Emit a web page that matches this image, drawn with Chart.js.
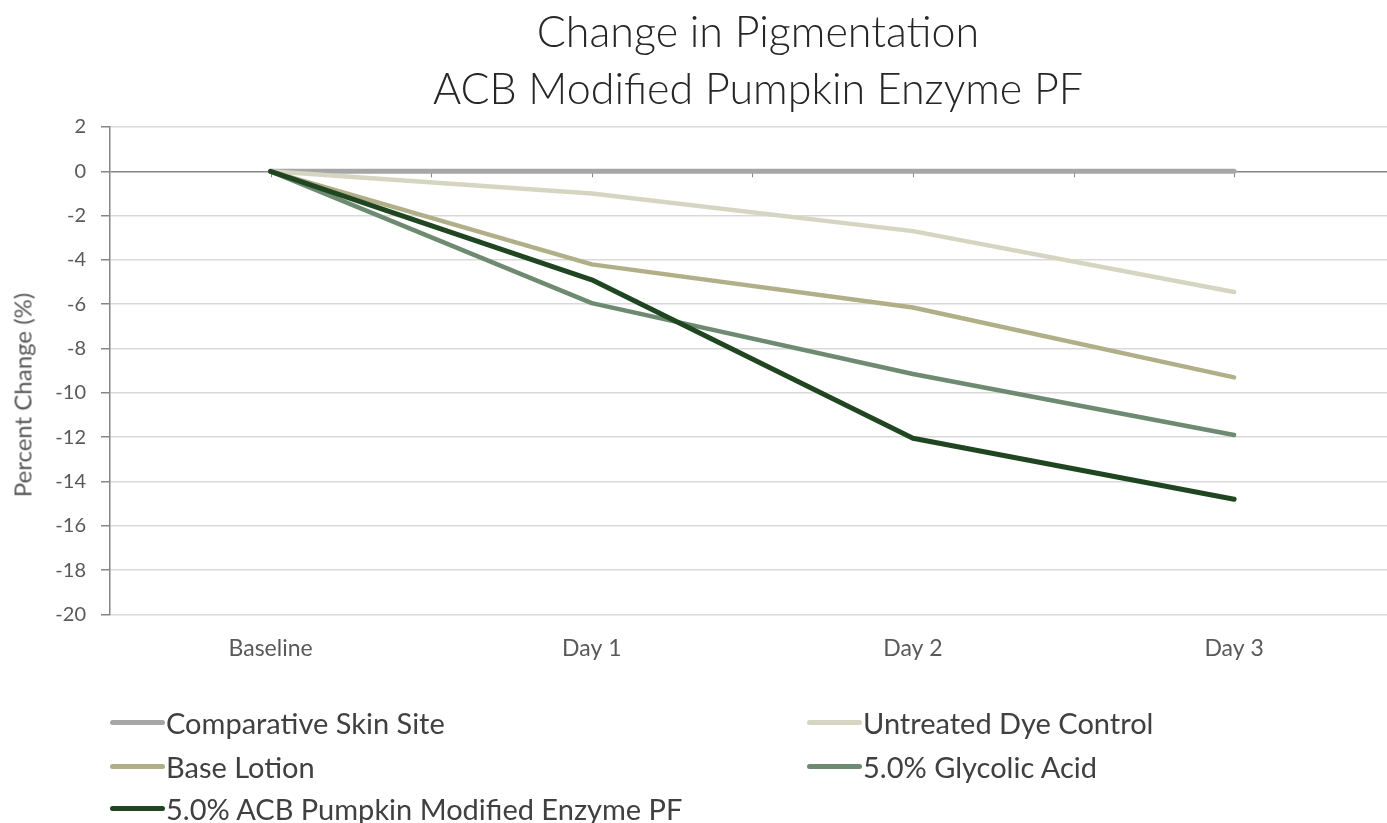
<!DOCTYPE html>
<html>
<head>
<meta charset="utf-8">
<script src="https://cdn.jsdelivr.net/npm/chart.js@4.4.1/dist/chart.umd.min.js"></script>
<style>
  html, body { margin: 0; padding: 0; background: #fff; overflow: hidden; }
  #wrap { position: relative; width: 1387px; height: 823px; }
  #title {
    position: absolute; left: 0; width: 1516px; top: 2px;
    text-align: center; font-family: Lato, sans-serif; font-weight: 300;
    font-size: 43px; line-height: 57px; color: #262626;
  }
  #yTitle {
    position: absolute; left: 22px; top: 395px; transform: translate(-50%, -50%) rotate(-90deg);
    font-family: Lato, sans-serif; font-size: 24px; color: #595959; white-space: nowrap;
  }
  #legend { position: absolute; left: 0; top: 0; font-family: Lato, sans-serif; }
  .item { position: absolute; display: flex; align-items: center; height: 40px; }
  .swatch { width: 55px; height: 5px; border-radius: 3px; margin-right: 1px; }
  .label { font-size: 29px; color: #404040; white-space: nowrap; }
</style>
</head>
<body>
<div id="wrap">
  <canvas id="pigmentChart" width="1387" height="823"></canvas>
  <div id="title">Change in Pigmentation<br>ACB Modified Pumpkin Enzyme PF</div>
  <div id="yTitle">Percent Change (%)</div>
  <div id="legend"></div>
</div>
<script>
  // Data
  const categories = ["Baseline", "Day 1", "Day 2", "Day 3"];
  const seriesNames = [
    "Comparative Skin Site",
    "Untreated Dye Control",
    "Base Lotion",
    "5.0% Glycolic Acid",
    "5.0% ACB Pumpkin Modified Enzyme PF",
  ];
  const comparativeSkin = [0, 0, 0, 0];
  const untreatedDye = [0, -1.0, -2.7, -5.45];
  const baseLotion = [0, -4.2, -6.15, -9.3];
  const glycolicAcid = [0, -5.95, -9.15, -11.9];
  const acbPumpkin = [0, -4.9, -12.05, -14.8];
  const yTicks = [2, 0, -2, -4, -6, -8, -10, -12, -14, -16, -18, -20];

  const colors = ["#a6a6a6", "#d5d5c1", "#b1af88", "#6e8b72", "#1f4621"];
  const widths = [5, 4.5, 4.5, 4.5, 5];
  const values = [comparativeSkin, untreatedDye, baseLotion, glycolicAcid, acbPumpkin];

  const toPoints = (arr) => arr.map((v, i) => ({ x: i, y: v }));

  // tick marks on the horizontal axis (crosses at 0)
  const zeroAxisTicks = {
    id: "zeroAxisTicks",
    beforeDatasetsDraw(chart) {
      const { ctx, scales } = chart;
      const y0 = scales.y.getPixelForValue(0);
      ctx.save();
      ctx.strokeStyle = "#868686";
      ctx.lineWidth = 1;
      for (let v = 0; v <= categories.length - 1; v += 0.5) {
        const x = Math.round(scales.x.getPixelForValue(v)) + 0.5;
        ctx.beginPath();
        ctx.moveTo(x, y0);
        ctx.lineTo(x, y0 + 6);
        ctx.stroke();
      }
      ctx.restore();
    },
  };

  const ctx = document.getElementById("pigmentChart").getContext("2d");
  const chart = new Chart(ctx, {
    type: "line",
    data: {
      datasets: seriesNames.map((name, i) => ({
        label: name,
        data: toPoints(values[i]),
        borderColor: colors[i],
        backgroundColor: colors[i],
        borderWidth: widths[i],
        borderCapStyle: "round",
        borderJoinStyle: "round",
        pointRadius: 0,
        tension: 0,
        fill: false,
        order: seriesNames.length - i,
      })),
    },
    plugins: [zeroAxisTicks],
    options: {
      responsive: false,
      animation: false,
      layout: { padding: { top: 127, right: 0, bottom: 149, left: 0 } },
      plugins: {
        legend: { display: false },
        title: { display: false },
        tooltip: { enabled: false },
      },
      scales: {
        x: {
          type: "linear",
          min: -0.5,
          max: 3.476,
          afterFit: (scale) => { scale.paddingLeft = 0; scale.paddingRight = 0; },
          grid: { display: false },
          border: { display: false },
          ticks: {
            stepSize: 0.5,
            autoSkip: false,
            maxRotation: 0,
            padding: 12,
            color: "#595959",
            font: { family: "Lato", size: 23 },
            callback: (v) => (Number.isInteger(v) && categories[v] !== undefined ? categories[v] : ""),
          },
        },
        y: {
          min: -20,
          max: 2,
          afterFit: (scale) => { scale.width = 110; },
          afterBuildTicks: (scale) => { scale.ticks = yTicks.map((v) => ({ value: v })); },
          grid: {
            color: (c) => (c.tick && c.tick.value === 0 ? "#868686" : "#d9d9d9"),
            lineWidth: 1.5,
            tickColor: "#868686",
            tickLength: 9,
          },
          border: { display: true, color: "#868686", width: 1.5 },
          ticks: {
            padding: 15,
            color: "#595959",
            font: { family: "Lato", size: 20 },
          },
        },
      },
    },
  });

  // Legend in two columns, built from the datasets
  const legendPos = [
    [110, 702], [807, 702],
    [110, 746], [807, 746],
    [110, 788],
  ];
  const legendEl = document.getElementById("legend");
  chart.data.datasets.forEach((ds, i) => {
    const item = document.createElement("div");
    item.className = "item";
    item.style.left = legendPos[i][0] + "px";
    item.style.top = legendPos[i][1] + "px";
    item.innerHTML = `<span class="swatch" style="background:${ds.borderColor}"></span><span class="label">${ds.label}</span>`;
    legendEl.appendChild(item);
  });
</script>
</body>
</html>
